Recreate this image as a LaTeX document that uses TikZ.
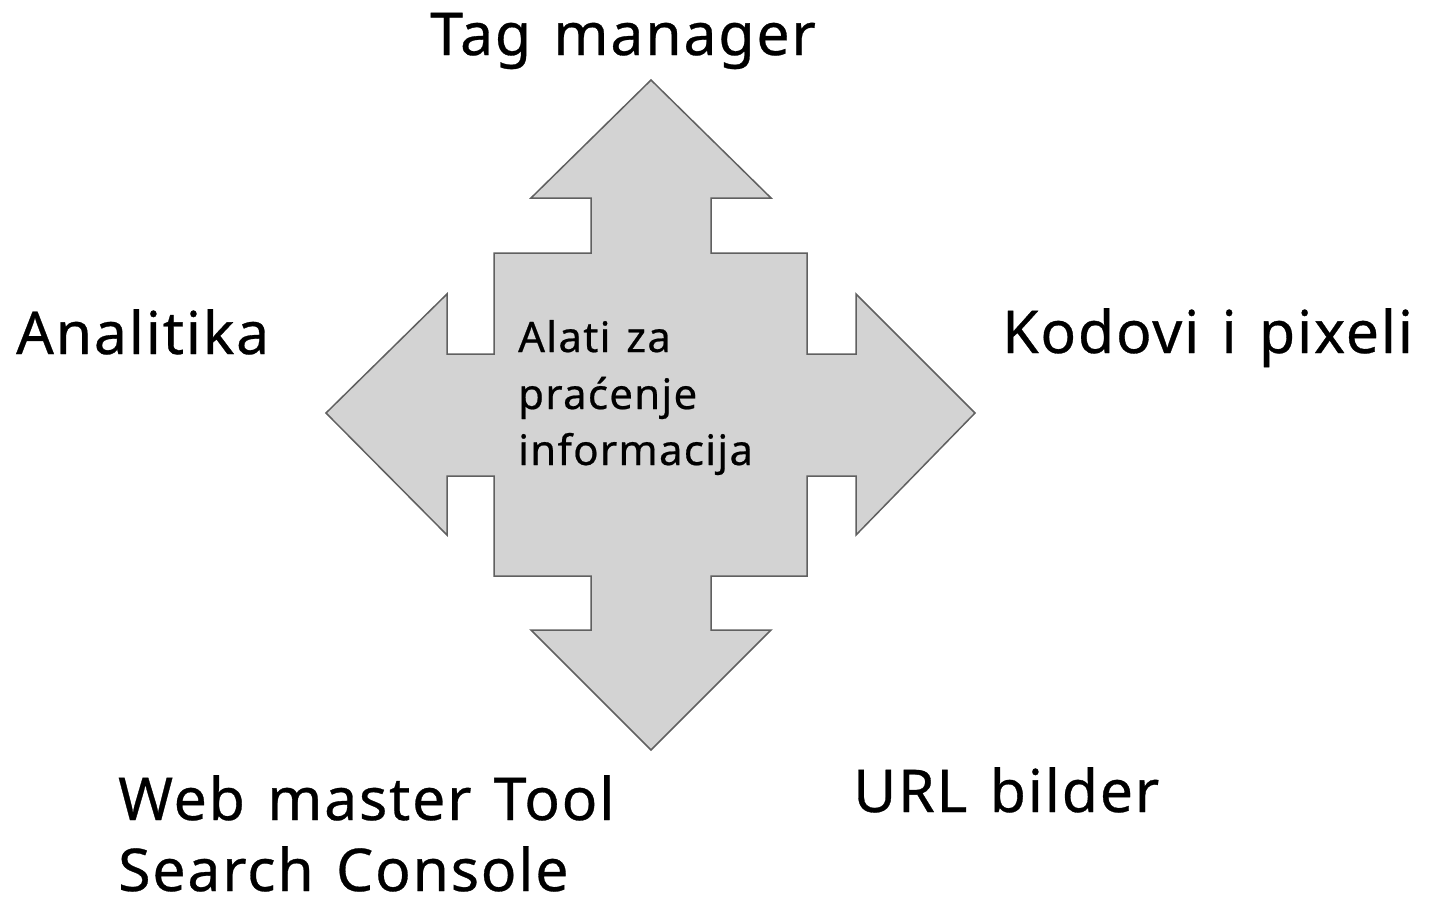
\documentclass[tikz,border=0pt]{standalone}
\usepackage{fontspec}
\setmainfont{Noto Sans}[LetterSpace=3,WordSpace=1.3,FakeBold=0.5]
\begin{document}
\begin{tikzpicture}[x=1pt,y=-1pt,
  crossfill/.style={fill=crossgray,draw=edgegray,line width=1.5pt,line join=miter},
  biglabel/.style={anchor=base west,inner sep=0pt,font=\fontsize{59}{75}\selectfont},
  innerlabel/.style={anchor=base west,inner sep=0pt,font=\fontsize{42}{57}\selectfont}]
\definecolor{crossgray}{HTML}{D3D3D3}
\definecolor{edgegray}{HTML}{606060}
\useasboundingbox (0,0) rectangle (1435,898);
% four-way arrow around the central square
\draw[crossfill]
  (651,80) -- (771,198) -- (711,198) -- (711,253) -- (807,253) -- (807,354)
  -- (856,354) -- (856,294) -- (975,413) -- (856,535) -- (856,476) -- (807,476)
  -- (807,576) -- (711,576) -- (711,630) -- (771,630) -- (651,750) -- (531,630)
  -- (591,630) -- (591,576) -- (494,576) -- (494,476) -- (447,476) -- (447,535)
  -- (326,413) -- (447,294) -- (447,354) -- (494,354) -- (494,253) -- (591,253)
  -- (591,198) -- (531,198) -- cycle;
\node[innerlabel] (center1) at (518,352) {Alati za};
\node[innerlabel] (center2) at (518,409) {praćenje};
\node[innerlabel] (center3) at (518,465) {informacija};
\node[biglabel] (tag) at (430,55) {Tag manager};
\node[biglabel] (analitika) at (16,354) {Analitika};
\node[biglabel] (kodovi) at (1002,353) {Kodovi i pixeli};
\node[biglabel] (web) at (118,820) {Web master Tool};
\node[biglabel] (search) at (118,891) {Search Console};
\node[biglabel] (url) at (853,812) {URL bilder};
\end{tikzpicture}
\end{document}
